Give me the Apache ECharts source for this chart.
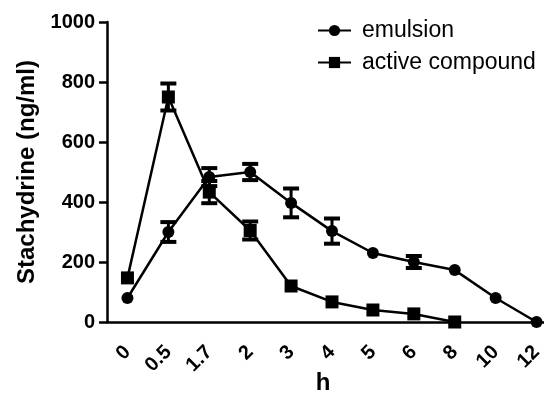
<!DOCTYPE html>
<html>
<head>
<meta charset="utf-8">
<script src="https://cdn.jsdelivr.net/npm/echarts@6/dist/echarts.min.js"></script>
<style>
  html, body { margin: 0; padding: 0; background: #fff; }
  #chart { width: 544px; height: 404px; }
</style>
</head>
<body>
<div id="chart"></div>
<script>
// time points (h)
const hours = ['0', '0.5', '1.7', '2', '3', '4', '5', '6', '8', '10', '12']
// mean concentration and error (ng/ml)
const emulsion = [80, 300, 483, 500, 397, 303, 230, 200, 173, 80, 0]
const emulsionErr = [0, 33, 30, 27, 48, 42, 0, 20, 0, 0, 0]
const activeCompound = [147, 750, 433, 305, 120, 67, 40, 27, 0, null, null]
const activeErr = [0, 45, 37, 30, 0, 0, 0, 0, 0, 0, 0]
const yTicks = [0, 200, 400, 600, 800, 1000]

const errData = (vals, errs) =>
  vals.map((v, i) => [i, v - errs[i], v + errs[i]]).filter((d, i) => vals[i] != null && errs[i] > 0)

function renderErr(params, api) {
  const x = api.value(0)
  const lo = api.coord([x, api.value(1)])
  const hi = api.coord([x, api.value(2)])
  const w = 8
  const style = { stroke: '#000', lineWidth: 3 }
  return {
    type: 'group',
    children: [
      { type: 'line', shape: { x1: hi[0], y1: hi[1], x2: lo[0], y2: lo[1] }, style },
      { type: 'line', shape: { x1: hi[0] - w, y1: hi[1], x2: hi[0] + w, y2: hi[1] }, style: { stroke: '#000', lineWidth: 4 } },
      { type: 'line', shape: { x1: lo[0] - w, y1: lo[1], x2: lo[0] + w, y2: lo[1] }, style: { stroke: '#000', lineWidth: 4 } }
    ]
  }
}

const myChart = echarts.init(document.getElementById('chart'))
myChart.setOption({
  animation: false,
  textStyle: { fontFamily: 'Liberation Sans, Arial, sans-serif' },
  legend: {
    data: ['emulsion', 'active compound'],
    orient: 'vertical',
    left: 312,
    top: 14,
    itemWidth: 33,
    itemHeight: 14,
    itemGap: 9,
    textStyle: { fontSize: 23, color: '#000', padding: [0, 0, 0, 6] }
  },
  grid: { left: 107, top: 22, width: 450, height: 300, outerBoundsMode: 'none' },
  xAxis: {
    type: 'category',
    data: hours,
    boundaryGap: true,
    name: 'h',
    nameLocation: 'middle',
    nameGap: 49,
    nameMoveOverlap: false,
    nameTextStyle: { fontSize: 24, fontWeight: 'bold', color: '#000', padding: [0, 18, 0, 0] },
    axisLine: { lineStyle: { color: '#000', width: 2.5 } },
    axisTick: { alignWithLabel: true, length: 8, lineStyle: { color: '#000', width: 2.5 } },
    axisLabel: { rotate: 45, margin: 27, fontSize: 20, fontWeight: 'bold', color: '#000' }
  },
  yAxis: {
    type: 'value',
    min: yTicks[0],
    max: yTicks[yTicks.length - 1],
    interval: 200,
    name: 'Stachydrine (ng/ml)',
    nameLocation: 'middle',
    nameGap: 66,
    nameTextStyle: { fontSize: 24, fontWeight: 'bold', color: '#000' },
    splitLine: { show: false },
    axisLine: { show: true, lineStyle: { color: '#000', width: 2.5 } },
    axisTick: { show: true, length: 8, lineStyle: { color: '#000', width: 2.5 } },
    axisLabel: { margin: 12, fontSize: 20, fontWeight: 'bold', color: '#000', formatter: (v) => String(v) }
  },
  series: [
    {
      name: 'emulsion',
      type: 'line',
      data: emulsion,
      symbol: 'circle',
      symbolSize: 12,
      color: '#000',
      lineStyle: { color: '#000', width: 2.5 },
      itemStyle: { color: '#000' },
      z: 3
    },
    {
      name: 'active compound',
      type: 'line',
      data: activeCompound,
      symbol: 'rect',
      symbolSize: 13,
      color: '#000',
      lineStyle: { color: '#000', width: 2.5 },
      itemStyle: { color: '#000' },
      z: 3
    },
    {
      type: 'custom',
      renderItem: renderErr,
      data: errData(emulsion, emulsionErr),
      encode: { x: 0, y: [1, 2] },
      z: 2
    },
    {
      type: 'custom',
      renderItem: renderErr,
      data: errData(activeCompound, activeErr),
      encode: { x: 0, y: [1, 2] },
      z: 2
    }
  ]
})
</script>
</body>
</html>
